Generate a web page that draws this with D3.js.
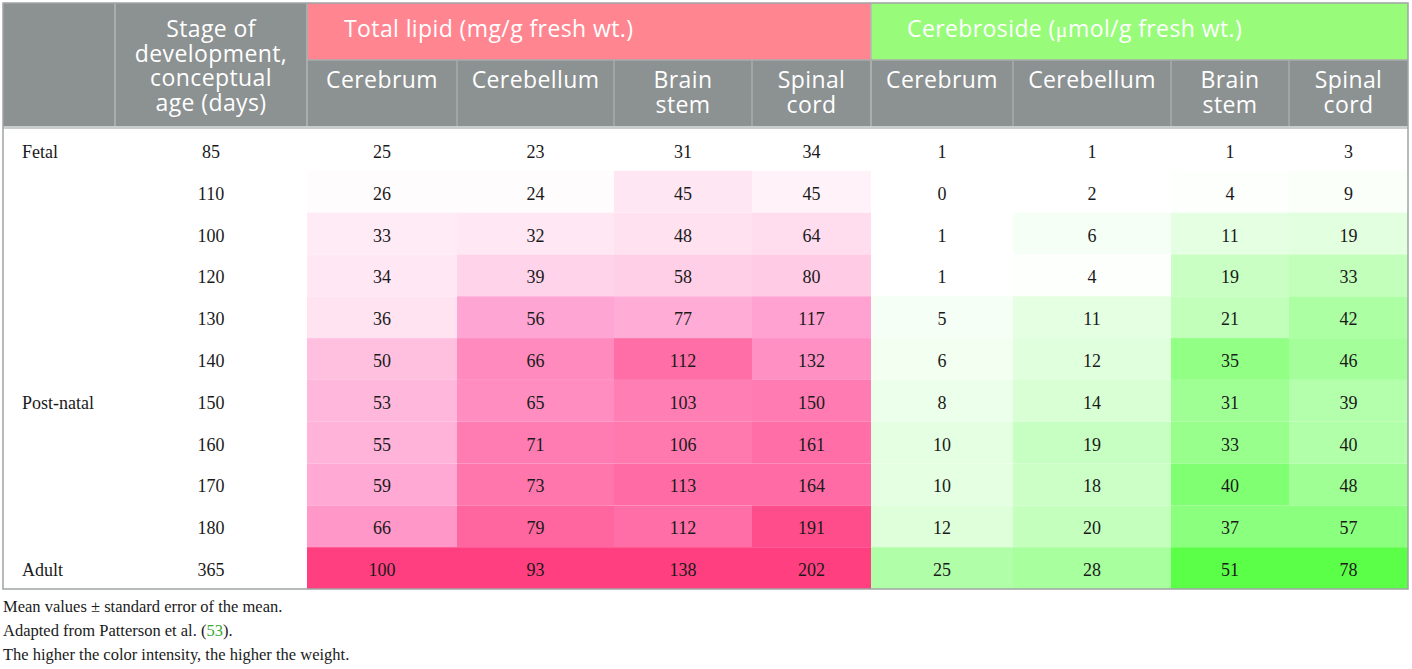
<!DOCTYPE html>
<html>
	<head>
		<title>Lipid and cerebroside</title>
		<style>
			body
			{
				margin: 0;
				background: #ffffff;
			}

			.headText
			{
				font: 23px "Open Sans";
				letter-spacing: 0.4px;
				fill: #ffffff;
			}

			.cellText
			{
				font: 18px "Liberation Serif";
				fill: #1a1a1a;
			}

			.noteText
			{
				font: 16.5px "Liberation Serif";
				fill: #1a1a1a;
			}
		</style>
		<script src="https://d3js.org/d3.v7.min.js"></script>
	</head>

	<body>
		<svg id="chart" width="1412" height="669"></svg>

		<script>
			var stageLabels = ["Fetal", "", "", "", "", "", "Post-natal", "", "", "", "Adult"];
			var ageDays = [85, 110, 100, 120, 130, 140, 150, 160, 170, 180, 365];
			var regions = [["Cerebrum"], ["Cerebellum"], ["Brain", "stem"], ["Spinal", "cord"]];
			var groupTitles = ["Total lipid (mg/g fresh wt.)", "Cerebroside (", "mol/g fresh wt.)"];

			// one array per column, rows top to bottom
			var lipidCerebrum = [25, 26, 33, 34, 36, 50, 53, 55, 59, 66, 100];
			var lipidCerebellum = [23, 24, 32, 39, 56, 66, 65, 71, 73, 79, 93];
			var lipidBrainStem = [31, 45, 48, 58, 77, 112, 103, 106, 113, 112, 138];
			var lipidSpinalCord = [34, 45, 64, 80, 117, 132, 150, 161, 164, 191, 202];

			var cbCerebrum = [1, 0, 1, 1, 5, 6, 8, 10, 10, 12, 25];
			var cbCerebellum = [1, 2, 6, 4, 11, 12, 14, 19, 18, 20, 28];
			var cbBrainStem = [1, 4, 11, 19, 21, 35, 31, 33, 40, 37, 51];
			var cbSpinalCord = [3, 9, 19, 33, 42, 46, 39, 40, 48, 57, 78];

			var notes = ["Mean values \u00b1 standard error of the mean.", "Adapted from Patterson et al. (", "The higher the color intensity, the higher the weight."];

			var svg = d3.select("#chart");

			var colEdges = [3, 115, 307, 457, 614, 752, 871, 1013, 1171, 1289, 1408];
			var top1 = 3, top2 = 60, bodyTop = 129, bodyBottom = 589;

			var rowScale = d3.scaleBand()
				.domain(d3.range(ageDays.length))
				.range([bodyTop, bodyBottom]);

			var pinkScale = d3.scaleLinear()
				.domain([0, 0.5, 1])
				.range(["#ffffff", "#ffa0d0", "#ff3f7f"]);

			var greenScale = d3.scaleLinear()
				.domain([0, 0.05, 0.5, 1])
				.range(["#ffffff", "#ffffff", "#b0ffa8", "#5cff48"])
				.clamp(true);

			var dataCols = [
				{ values: lipidCerebrum, kind: "lipid" },
				{ values: lipidCerebellum, kind: "lipid" },
				{ values: lipidBrainStem, kind: "lipid" },
				{ values: lipidSpinalCord, kind: "lipid" },
				{ values: cbCerebrum, kind: "cb" },
				{ values: cbCerebellum, kind: "cb" },
				{ values: cbBrainStem, kind: "cb" },
				{ values: cbSpinalCord, kind: "cb" }
			];

			var textY = function(d, i) { return rowScale(i) + rowScale.bandwidth() / 2 + 8; };

			dataCols.forEach(function(col, c)
			{
				var lo = d3.min(col.values), hi = d3.max(col.values);
				var x0 = colEdges[c + 2], x1 = colEdges[c + 3];

				var colour;
				if (col.kind == "lipid")
				{
					var t = d3.scaleLinear().domain([lo, hi]).range([0, 1]);
					colour = function(v) { return pinkScale(t(v)); };
				}
				else
				{
					var t2 = d3.scaleLinear().domain([lo, Math.max(hi, 50)]).range([0, 1]);
					colour = function(v) { return greenScale(t2(v)); };
				}

				svg.selectAll("rect.col" + c)
					.data(col.values)
					.enter()
					.append("rect")
					.attr("class", "col" + c)
					.attr("x", x0)
					.attr("y", function(d, i) { return rowScale(i); })
					.attr("width", x1 - x0)
					.attr("height", rowScale.bandwidth())
					.attr("fill", function(d) { return colour(d); });

				svg.selectAll("text.colText" + c)
					.data(col.values)
					.enter()
					.append("text")
					.attr("class", "cellText colText" + c)
					.attr("x", (x0 + x1) / 2)
					.attr("y", textY)
					.attr("text-anchor", "middle")
					.text(function(d) { return d; });
			});

			// left columns
			svg.selectAll("text.stage")
				.data(stageLabels)
				.enter()
				.append("text")
				.attr("class", "cellText stage")
				.attr("x", 22)
				.attr("y", textY)
				.text(function(d) { return d; });

			svg.selectAll("text.age")
				.data(ageDays)
				.enter()
				.append("text")
				.attr("class", "cellText age")
				.attr("x", (colEdges[1] + colEdges[2]) / 2)
				.attr("y", textY)
				.attr("text-anchor", "middle")
				.text(function(d) { return d; });

			// header
			svg.append("rect")
				.attr("x", colEdges[0]).attr("y", top1)
				.attr("width", colEdges[2] - colEdges[0]).attr("height", bodyTop - top1)
				.attr("fill", "#8c9192");

			svg.append("rect")
				.attr("x", colEdges[2]).attr("y", top2)
				.attr("width", colEdges[10] - colEdges[2]).attr("height", bodyTop - top2)
				.attr("fill", "#8c9192");

			svg.append("rect")
				.attr("x", colEdges[2]).attr("y", top1)
				.attr("width", colEdges[6] - colEdges[2]).attr("height", top2 - top1)
				.attr("fill", "#ff8591");

			svg.append("rect")
				.attr("x", colEdges[6]).attr("y", top1)
				.attr("width", colEdges[10] - colEdges[6]).attr("height", top2 - top1)
				.attr("fill", "#98fc7a");

			// header separators
			svg.selectAll("line.headSep")
				.data([1, 2])
				.enter()
				.append("line")
				.attr("class", "headSep")
				.attr("x1", function(d) { return colEdges[d]; })
				.attr("x2", function(d) { return colEdges[d]; })
				.attr("y1", top1).attr("y2", bodyTop)
				.attr("stroke", "#a9adad").attr("stroke-width", 2);

			svg.selectAll("line.subSep")
				.data([3, 4, 5, 6, 7, 8, 9])
				.enter()
				.append("line")
				.attr("class", "subSep")
				.attr("x1", function(d) { return colEdges[d]; })
				.attr("x2", function(d) { return colEdges[d]; })
				.attr("y1", function(d) { return d == 6 ? top1 : top2; }).attr("y2", bodyTop)
				.attr("stroke", function(d) { return d == 6 ? "#b5b9b9" : "#a9adad"; })
				.attr("stroke-width", 1.5);

			svg.append("line")
				.attr("x1", colEdges[2]).attr("x2", colEdges[10])
				.attr("y1", top2).attr("y2", top2)
				.attr("stroke", "#a9adad").attr("stroke-width", 1.5);

			svg.append("line")
				.attr("x1", colEdges[0]).attr("x2", colEdges[10])
				.attr("y1", bodyTop - 1.5).attr("y2", bodyTop - 1.5)
				.attr("stroke", "#c9cdcd").attr("stroke-width", 3);

			svg.append("text")
				.attr("class", "headText")
				.attr("text-anchor", "middle")
				.selectAll("tspan")
				.data(["Stage of", "development,", "conceptual", "age (days)"])
				.enter()
				.append("tspan")
				.attr("x", (colEdges[1] + colEdges[2]) / 2)
				.attr("y", function(d, i) { return 37 + i * 24.5; })
				.text(function(d) { return d; });

			svg.append("text")
				.attr("class", "headText")
				.attr("x", colEdges[2] + 37)
				.attr("y", 37)
				.text(groupTitles[0]);

			var cbTitle = svg.append("text")
				.attr("class", "headText")
				.attr("x", colEdges[6] + 36)
				.attr("y", 37);
			cbTitle.append("tspan").text(groupTitles[1]);
			cbTitle.append("tspan").attr("font-family", "Liberation Serif").attr("font-size", "22px").text("\u03bc");
			cbTitle.append("tspan").text(groupTitles[2]);

			var subHeads = regions.concat(regions);
			subHeads.forEach(function(lines, c)
			{
				svg.append("text")
					.attr("class", "headText")
					.attr("text-anchor", "middle")
					.selectAll("tspan")
					.data(lines)
					.enter()
					.append("tspan")
					.attr("x", (colEdges[c + 2] + colEdges[c + 3]) / 2)
					.attr("y", function(d, i) { return 88 + i * 24.5; })
					.text(function(d) { return d; });
			});

			// outer border
			svg.append("rect")
				.attr("x", colEdges[0]).attr("y", top1)
				.attr("width", colEdges[10] - colEdges[0]).attr("height", bodyBottom - top1)
				.attr("fill", "none")
				.attr("stroke", "#a0a4a4").attr("stroke-width", 1.5);

			// notes
			svg.selectAll("text.note")
				.data(notes)
				.enter()
				.append("text")
				.attr("class", "noteText note")
				.attr("x", 3)
				.attr("y", function(d, i) { return 612 + i * 24; })
				.each(function(d, i)
				{
					var t = d3.select(this);
					t.append("tspan").text(d);
					if (i == 1)
					{
						t.append("tspan").attr("fill", "#3aaa35").text("53");
						t.append("tspan").text(").");
					}
				});
		</script>
	</body>
</html>
